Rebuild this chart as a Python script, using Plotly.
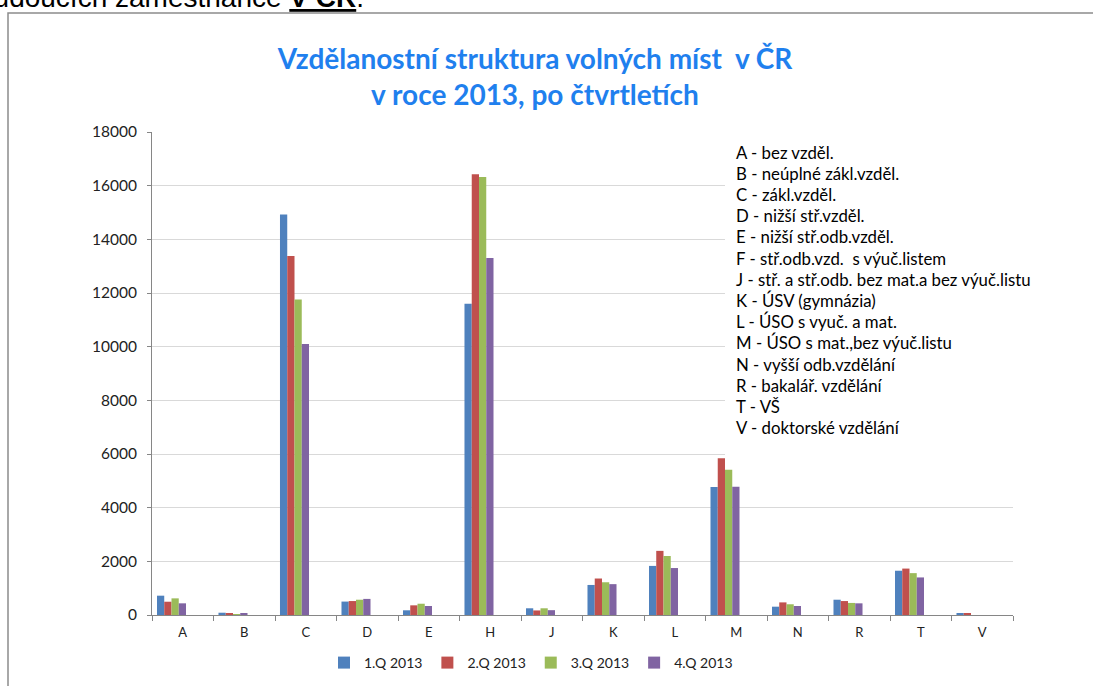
import plotly.graph_objects as go

categories = ["A", "B", "C", "D", "E", "H", "J", "K", "L", "M", "N", "R", "T", "V"]
series_names = ["1.Q 2013", "2.Q 2013", "3.Q 2013", "4.Q 2013"]
q1 = [720, 85, 14930, 500, 175, 11600, 250, 1120, 1830, 4770, 310, 570, 1650, 60]
q2 = [495, 60, 13380, 520, 360, 16430, 170, 1360, 2390, 5840, 470, 520, 1730, 60]
q3 = [620, 30, 11760, 570, 420, 16320, 250, 1220, 2200, 5410, 400, 450, 1560, 0]
q4 = [435, 55, 10100, 600, 335, 13300, 180, 1150, 1750, 4780, 335, 435, 1400, 0]
series_values = [q1, q2, q3, q4]
colors = ["#4F81BD", "#C0504D", "#9BBB59", "#8064A2"]

definitions = [
    "A - bez vzděl.",
    "B - neúplné zákl.vzděl.",
    "C - zákl.vzděl.",
    "D - nižší stř.vzděl.",
    "E - nižší stř.odb.vzděl.",
    "F - stř.odb.vzd.  s výuč.listem",
    "J - stř. a stř.odb. bez mat.a bez výuč.listu",
    "K - ÚSV (gymnázia)",
    "L - ÚSO s vyuč. a mat.",
    "M - ÚSO s mat.,bez výuč.listu",
    "N - vyšší odb.vzdělání",
    "R - bakalář. vzdělání",
    "T - VŠ",
    "V - doktorské vzdělání",
]

W, H = 1093, 686
ML, MR, MT, MB = 152, 80, 132, 71
PW, PH = W - ML - MR, H - MT - MB

def px(xp):
    return (xp - ML) / PW

def py(yp):
    return (H - MB - yp) / PH

FONT = "Lato"
fig = go.Figure()
bw = 0.118
for i, (name, vals, c) in enumerate(zip(series_names, series_values, colors)):
    fig.add_trace(go.Bar(
        x=categories, y=vals, name=name,
        marker=dict(color=c, line=dict(width=0)),
        width=bw, offset=-0.419 + i * bw,
    ))

# white text box behind definitions
fig.add_shape(type="rect", xref="paper", yref="paper",
              x0=px(725), x1=px(1045), y0=py(457), y1=py(138),
              fillcolor="white", line=dict(width=0), layer="above")

line_h = 21.2
for i, t in enumerate(definitions):
    fig.add_annotation(text=t, xref="paper", yref="paper",
                       x=px(734), y=py(152 + i * line_h),
                       xanchor="left", yanchor="middle", showarrow=False,
                       font=dict(family=FONT, size=16.8, color="#000000"))

# outer frame
fig.add_shape(type="rect", xref="paper", yref="paper",
              x0=px(8), x1=px(1110), y0=py(700), y1=py(13),
              line=dict(color="#8c8c8c", width=1.5), fillcolor="rgba(0,0,0,0)")

# text above the frame (cut off by page top)
fig.add_annotation(text="budoucích zaměstnance <b><u>V ČR</u></b>.",
                   xref="paper", yref="paper", x=px(366), y=py(15),
                   xanchor="right", yanchor="bottom", showarrow=False,
                   font=dict(family="Liberation Sans", size=28, color="#000000"))

fig.update_layout(
    width=W, height=H,
    margin=dict(l=ML, r=MR, t=MT, b=MB, autoexpand=False),
    paper_bgcolor="white", plot_bgcolor="white",
    barmode="group",
    title=dict(text="Vzdělanostní struktura volných míst  v ČR<br>v roce 2013, po čtvrtletích",
               x=px(535), xref="paper", xanchor="center",
               y=1 - 69 / H, yref="container", yanchor="top",
               font=dict(family=FONT, size=28, color="#1F80EE", weight="bold")),
    font=dict(family=FONT, size=13, color="#222222"),
    showlegend=True,
    legend=dict(orientation="h", x=px(531), xanchor="center", y=py(663), yanchor="middle",
                font=dict(family=FONT, size=14, color="#222222"),
                itemwidth=30, tracegroupgap=0),
    xaxis=dict(type="category", showline=True, linecolor="#868686", linewidth=1,
               ticks="outside", tickson="boundaries", ticklen=5, tickcolor="#868686",
               ticklabelstandoff=5,
               showgrid=False, tickfont=dict(family=FONT, size=13, color="#222222")),
    yaxis=dict(range=[0, 18000], dtick=2000, tickformat="d", showgrid=True, gridcolor="#d9d9d9", gridwidth=1,
               showline=True, linecolor="#868686", linewidth=1, zeroline=False,
               ticks="outside", ticklen=4, tickcolor="#868686",
               ticklabelstandoff=7,
               tickfont=dict(family=FONT, size=15.5, color="#222222")),
)

fig.write_html("out.html", config={"displayModeBar": False},
               post_script="document.body.style.margin='0';document.body.style.overflow='hidden';")
